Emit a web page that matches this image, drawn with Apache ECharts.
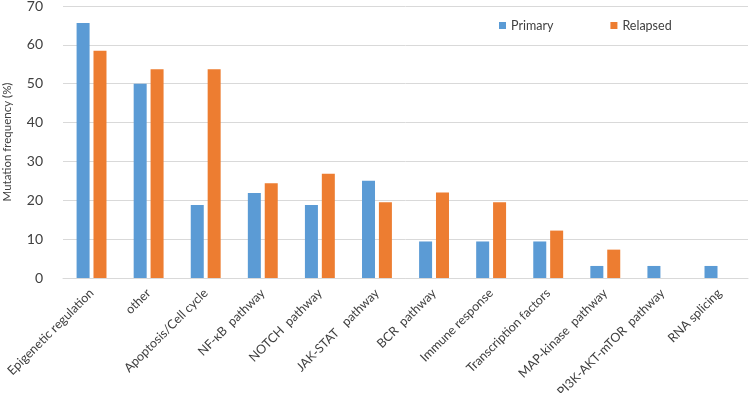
<!DOCTYPE html>
<html>
<head>
<meta charset="utf-8">
<script src="https://cdn.jsdelivr.net/npm/echarts@6/dist/echarts.min.js"></script>
<style>
html,body{margin:0;padding:0;background:#fff;}
#main{width:750px;height:393px;}
</style>
</head>
<body>
<div id="main"></div>
<script>
// 数据
var categories=['Epigenetic regulation','other','Apoptosis/Cell cycle','NF-κB  pathway','NOTCH  pathway','JAK-STAT   pathway','BCR  pathway','Immune response','Transcription factors','MAP-kinase  pathway','PI3K-AKT-mTOR  pathway','RNA splicing'];
var primary=[65.6,50.0,18.8,21.9,18.8,25.0,9.4,9.4,9.4,3.1,3.1,3.1];
var relapsed=[58.5,53.7,53.7,24.4,26.8,19.5,22.0,19.5,12.2,7.3,0,0];
var yTicks=[0,10,20,30,40,50,60,70];

var myChart=echarts.init(document.getElementById('main'));
var fontName='Lato';
var option={
	animation:false,
	textStyle:{fontFamily:fontName},
	legend:{
		top:14,
		left:494,
		itemWidth:7,
		itemHeight:7,
		itemGap:57,
		icon:'rect',
		textStyle:{fontSize:12.5,color:'#404040',fontFamily:fontName},
		data:['Primary','Relapsed']
	},
	grid:{left:63,right:2,top:6,bottom:115,containLabel:false,outerBoundsMode:'none'},
	xAxis:{
		type:'category',
		data:categories,
		axisLine:{lineStyle:{color:'#D9D9D9'}},
		axisTick:{show:false},
		axisLabel:{rotate:45,fontSize:12.5,color:'#404040',margin:13,interval:0,fontFamily:fontName}
	},
	yAxis:{
		type:'value',
		min:yTicks[0],
		max:yTicks[yTicks.length-1],
		interval:10,
		name:'Mutation frequency (%)',
		nameLocation:'middle',
		nameGap:50,
		nameTextStyle:{fontSize:11.5,color:'#404040',fontFamily:fontName},
		axisLine:{show:false},
		axisTick:{show:false},
		axisLabel:{fontSize:14,color:'#404040',margin:20,fontFamily:fontName},
		splitLine:{lineStyle:{color:'#D9D9D9'}}
	},
	series:[
		{name:'Primary',type:'bar',data:primary,barWidth:13,barGap:'30%',itemStyle:{color:'#5B9BD5'}},
		{name:'Relapsed',type:'bar',data:relapsed,barWidth:13,barGap:'30%',itemStyle:{color:'#ED7D31'}}
	]
};
myChart.setOption(option);
</script>
</body>
</html>
